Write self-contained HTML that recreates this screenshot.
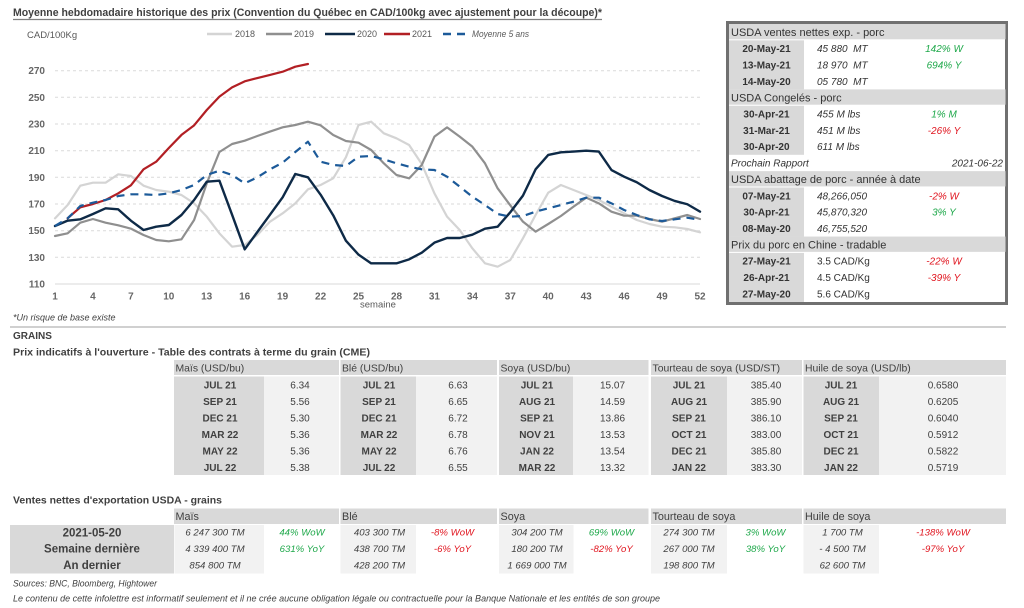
<!DOCTYPE html>
<html><head><meta charset="utf-8"><style>
html,body{margin:0;padding:0;background:#fff;}
svg{display:block;font-family:"Liberation Sans",sans-serif;}
</style></head><body>
<svg width="1024" height="608" viewBox="0 0 1024 608" xmlns="http://www.w3.org/2000/svg">
<rect width="1024" height="608" fill="#fff"/>
<!-- Title -->
<text x="13" y="16" font-size="11" font-weight="bold" fill="#404040" textLength="589" lengthAdjust="spacingAndGlyphs">Moyenne hebdomadaire historique des prix (Convention du Québec en CAD/100kg avec ajustement pour la découpe)*</text>
<line x1="13" y1="19.5" x2="602" y2="19.5" stroke="#808080" stroke-width="1.3"/>
<text x="27" y="38" font-size="9.5" fill="#595959">CAD/100Kg</text>
<!-- Legend -->
<g font-size="9" fill="#595959">
<line x1="207" y1="34" x2="232" y2="34" stroke="#d4d4d4" stroke-width="2.5"/><text x="235" y="37.2">2018</text>
<line x1="266" y1="34" x2="292" y2="34" stroke="#8f8f8f" stroke-width="2.5"/><text x="294" y="37.2">2019</text>
<line x1="325" y1="34" x2="355" y2="34" stroke="#0e2a47" stroke-width="2.5"/><text x="357" y="37.2">2020</text>
<line x1="384" y1="34" x2="410" y2="34" stroke="#b21f24" stroke-width="2.5"/><text x="412" y="37.2">2021</text>
<line x1="443" y1="34" x2="467" y2="34" stroke="#1c5a99" stroke-width="2.5" stroke-dasharray="8,6"/><text x="472" y="37.2" font-style="italic" textLength="57" lengthAdjust="spacingAndGlyphs">Moyenne 5 ans</text>
</g>
<!-- Gridlines -->
<g stroke="#dadada" stroke-width="1" stroke-dasharray="3,3">
<line x1="55" y1="70.7" x2="700" y2="70.7"/>
<line x1="55" y1="97.3" x2="700" y2="97.3"/>
<line x1="55" y1="124" x2="700" y2="124"/>
<line x1="55" y1="150.7" x2="700" y2="150.7"/>
<line x1="55" y1="177.3" x2="700" y2="177.3"/>
<line x1="55" y1="204" x2="700" y2="204"/>
<line x1="55" y1="230.7" x2="700" y2="230.7"/>
<line x1="55" y1="257.3" x2="700" y2="257.3"/>
</g>
<line x1="55" y1="284" x2="700" y2="284" stroke="#d9d9d9" stroke-width="1"/>
<!-- Y labels -->
<g font-size="10" font-weight="bold" fill="#666" text-anchor="end">
<text x="45" y="74">270</text><text x="45" y="100.8">250</text><text x="45" y="127.5">230</text><text x="45" y="154.2">210</text>
<text x="45" y="180.8">190</text><text x="45" y="207.5">170</text><text x="45" y="234.2">150</text><text x="45" y="260.8">130</text><text x="45" y="287.5">110</text>
</g>
<!-- X labels -->
<g font-size="10" font-weight="bold" fill="#666" text-anchor="middle">
<text x="55" y="299.5">1</text><text x="92.9" y="299.5">4</text><text x="130.9" y="299.5">7</text><text x="168.8" y="299.5">10</text>
<text x="206.7" y="299.5">13</text><text x="244.7" y="299.5">16</text><text x="282.6" y="299.5">19</text><text x="320.6" y="299.5">22</text>
<text x="358.5" y="299.5">25</text><text x="396.5" y="299.5">28</text><text x="434.4" y="299.5">31</text><text x="472.4" y="299.5">34</text>
<text x="510.3" y="299.5">37</text><text x="548.2" y="299.5">40</text><text x="586.2" y="299.5">43</text><text x="624.1" y="299.5">46</text>
<text x="662.1" y="299.5">49</text><text x="700" y="299.5">52</text>
</g>
<text x="360" y="307.5" font-size="9.5" fill="#595959">semaine</text>
<!-- Series -->
<g transform="matrix(12.647 0 0 -1.33333 42.353 430.667)" fill="none" stroke-linejoin="round" stroke-linecap="round">
<polyline vector-effect="non-scaling-stroke" stroke="#d4d4d4" stroke-width="2.2" points="1,159.25 2,169.25 3,183.75 4,186 5,186 6,192.25 7,191 8,183.75 9,180.5 10,179.25 11,176.75 12,170.5 13,160.5 14,148 15,138 16,139.25 17,146.75 18,156.75 19,163 20,170.5 21,181 22,184.25 23,189.25 24,205 25,229.25 26,231.75 27,223 28,219.25 29,214.25 30,200 31,178 32,160.5 33,150.5 34,136.75 35,125.5 36,123 37,128 38,144.25 39,161.75 40,178.5 41,184.25 42,180.5 43,176.75 44,173 45,168 46,163 47,158 48,155 49,153 50,152.5 51,151.25 52,148.75"/>
<polyline vector-effect="non-scaling-stroke" stroke="#8f8f8f" stroke-width="2.2" points="1,146 2,148 3,156 4,158.75 5,156 6,154 7,151.5 8,146.75 9,143 10,142 11,143.5 12,158 13,185.5 14,209 15,215 16,217.5 17,221 18,224.3 19,227.5 20,229.25 21,231.75 22,229 23,221.75 24,217.25 25,216 26,210.5 27,200.5 28,191.75 29,189.25 30,199.25 31,220.5 32,227.5 33,220.5 34,213 35,200.5 36,181.75 37,169 38,156.75 39,149.25 40,155 41,161 42,168 43,174.75 44,170.5 45,164.25 46,161.25 47,161.25 48,158.75 49,156.75 50,159.25 51,161.75 52,158.75"/>
<polyline vector-effect="non-scaling-stroke" stroke="#0e2a47" stroke-width="2.4" points="1,153.5 2,157.5 3,158.5 4,162.5 5,166.75 6,166 7,157.5 8,150.5 9,153 10,154.25 11,161.75 12,173 13,186.75 14,187.5 15,162 16,136 17,149 18,162 19,175 20,192.5 21,190 22,177 23,161.5 24,142.5 25,132 26,125.5 27,125.5 28,125.5 29,128.5 30,133.5 31,141 32,144.5 33,144.5 34,147 35,151.5 36,153 37,163.8 38,176.3 39,196 40,206.8 41,208.8 42,209.3 43,210 44,209.3 45,195.5 46,190.5 47,186.3 48,180.5 49,176 50,172.3 51,169.8 52,164.3"/>
<polyline vector-effect="non-scaling-stroke" stroke="#b21f24" stroke-width="2.2" points="2,159.3 3,167.5 4,170 5,173 6,178 7,184 8,196 9,201.7 10,212 11,221.8 12,229 13,240.5 14,250.5 15,257.5 16,262 17,264.5 18,266.8 19,269.2 20,273 21,275"/>
<polyline vector-effect="non-scaling-stroke" stroke="#1c5a99" stroke-width="2.2" stroke-dasharray="8,6" stroke-linecap="butt" points="1,153.5 2,159.25 3,168.5 4,171 5,173 6,176 7,177.25 8,177.25 9,176.75 10,178 11,180.5 12,184.25 13,191.75 14,195 15,191.75 16,185.5 17,190 18,196 19,201 20,209 21,216.75 22,201.75 23,199.25 24,198.5 25,205.5 26,206 27,203.5 28,200.5 29,198 30,196 31,195.5 32,190.5 33,183 34,175.5 35,169.25 36,162.5 37,160.5 38,161 39,164.25 40,166.75 41,169.25 42,171.75 43,174.75 44,174.75 45,170.5 46,165.5 47,161.75 48,158.5 49,157.25 50,158.5 51,159.75 52,158"/>
</g>
<text x="13" y="320.5" font-size="9" font-style="italic" fill="#404040">*Un risque de base existe</text>
<line x1="10" y1="327" x2="1006" y2="327" stroke="#d0d0d0" stroke-width="2"/>

<!-- Right panel -->
<rect x="727.5" y="22.5" width="279" height="281" fill="#fff" stroke="#707070" stroke-width="3"/>
<g fill="#d9d9d9">
<rect x="729" y="24" width="276.5" height="15.3"/>
<rect x="729" y="89.4" width="276.5" height="15.3"/>
<rect x="729" y="171.15" width="276.5" height="15.3"/>
<rect x="729" y="236.55" width="276.5" height="15.3"/>
<rect x="729" y="40.35" width="75" height="49.05"/>
<rect x="729" y="105.75" width="75" height="49.05"/>
<rect x="729" y="187.5" width="75" height="49.05"/>
<rect x="729" y="252.9" width="75" height="49.05"/>
</g>
<g font-size="11" fill="#333">
<text x="731" y="36">USDA ventes nettes exp. - porc</text>
<text x="731" y="101.4">USDA Congelés - porc</text>
<text x="731" y="183.1">USDA abattage de porc - année à date</text>
<text x="731" y="248.5">Prix du porc en Chine - tradable</text>
</g>
<g font-size="10" font-weight="bold" fill="#333" text-anchor="middle">
<text x="766.5" y="52.1">20-May-21</text><text x="766.5" y="68.5">13-May-21</text><text x="766.5" y="84.8">14-May-20</text>
<text x="766.5" y="117.5">30-Apr-21</text><text x="766.5" y="133.9">31-Mar-21</text><text x="766.5" y="150.2">30-Apr-20</text>
<text x="766.5" y="199.3">07-May-21</text><text x="766.5" y="215.6">30-Apr-21</text><text x="766.5" y="232">08-May-20</text>
<text x="766.5" y="264.7">27-May-21</text><text x="766.5" y="281">26-Apr-21</text><text x="766.5" y="297.4">27-May-20</text>
</g>
<g font-size="10" font-style="italic" fill="#333">
<text x="817" y="52.1" xml:space="preserve">45 880  MT</text><text x="817" y="68.5" xml:space="preserve">18 970  MT</text><text x="817" y="84.8" xml:space="preserve">05 780  MT</text>
<text x="817" y="117.5">455 M lbs</text><text x="817" y="133.9">451 M lbs</text><text x="817" y="150.2">611 M lbs</text>
<text x="731" y="166.6">Prochain Rapport</text><text x="1003" y="166.6" text-anchor="end">2021-06-22</text>
<text x="817" y="199.3">48,266,050</text><text x="817" y="215.6">45,870,320</text><text x="817" y="232">46,755,520</text>
</g>
<g font-size="10" fill="#333">
<text x="817" y="264.7">3.5 CAD/Kg</text><text x="817" y="281">4.5 CAD/Kg</text><text x="817" y="297.4">5.6 CAD/Kg</text>
</g>
<g font-size="10" font-style="italic" text-anchor="middle">
<text x="944" y="52.1" fill="#1ea84a">142% W</text><text x="944" y="68.5" fill="#1ea84a">694% Y</text>
<text x="944" y="117.5" fill="#1ea84a">1% M</text><text x="944" y="133.9" fill="#e0141e">-26% Y</text>
<text x="944" y="199.3" fill="#e0141e">-2% W</text><text x="944" y="215.6" fill="#1ea84a">3% Y</text>
<text x="944" y="264.7" fill="#e0141e">-22% W</text><text x="944" y="281" fill="#e0141e">-39% Y</text>
</g>

<!-- GRAINS -->
<text x="13" y="339" font-size="10" font-weight="bold" fill="#404040">GRAINS</text>
<text x="13" y="355.5" font-size="10.5" font-weight="bold" fill="#404040" textLength="357" lengthAdjust="spacingAndGlyphs">Prix indicatifs à l'ouverture - Table des contrats à terme du grain (CME)</text>
<g fill="#d9d9d9">
<rect x="174" y="360" width="165" height="15"/><rect x="340.5" y="360" width="156.5" height="15"/><rect x="499" y="360" width="149.5" height="15"/><rect x="651" y="360" width="151" height="15"/><rect x="803.5" y="360" width="202.5" height="15"/>
<rect x="174" y="376.5" width="90" height="98.5"/><rect x="340.5" y="376.5" width="75.5" height="98.5"/><rect x="499" y="376.5" width="74" height="98.5"/><rect x="651" y="376.5" width="76" height="98.5"/><rect x="803.5" y="376.5" width="75.5" height="98.5"/>
</g>
<g fill="#f2f2f2">
<rect x="264" y="376.5" width="75" height="98.5"/><rect x="416" y="376.5" width="81" height="98.5"/><rect x="573" y="376.5" width="75.5" height="98.5"/><rect x="727" y="376.5" width="75" height="98.5"/><rect x="879" y="376.5" width="127" height="98.5"/>
</g>
<g font-size="10.4" fill="#404040">
<text x="175.5" y="371.5">Maïs (USD/bu)</text><text x="342" y="371.5">Blé (USD/bu)</text><text x="500.5" y="371.5">Soya (USD/bu)</text><text x="652.5" y="371.5">Tourteau de soya (USD/ST)</text><text x="805" y="371.5">Huile de soya (USD/lb)</text>
</g>
<g font-size="10" font-weight="bold" fill="#404040" text-anchor="middle">
<text x="220" y="388.6">JUL 21</text><text x="220" y="405.1">SEP 21</text><text x="220" y="421.5">DEC 21</text><text x="220" y="438">MAR 22</text><text x="220" y="454.5">MAY 22</text><text x="220" y="470.9">JUL 22</text>
<text x="379" y="388.6">JUL 21</text><text x="379" y="405.1">SEP 21</text><text x="379" y="421.5">DEC 21</text><text x="379" y="438">MAR 22</text><text x="379" y="454.5">MAY 22</text><text x="379" y="470.9">JUL 22</text>
<text x="537" y="388.6">JUL 21</text><text x="537" y="405.1">AUG 21</text><text x="537" y="421.5">SEP 21</text><text x="537" y="438">NOV 21</text><text x="537" y="454.5">JAN 22</text><text x="537" y="470.9">MAR 22</text>
<text x="689" y="388.6">JUL 21</text><text x="689" y="405.1">AUG 21</text><text x="689" y="421.5">SEP 21</text><text x="689" y="438">OCT 21</text><text x="689" y="454.5">DEC 21</text><text x="689" y="470.9">JAN 22</text>
<text x="841" y="388.6">JUL 21</text><text x="841" y="405.1">AUG 21</text><text x="841" y="421.5">SEP 21</text><text x="841" y="438">OCT 21</text><text x="841" y="454.5">DEC 21</text><text x="841" y="470.9">JAN 22</text>
</g>
<g font-size="10" fill="#404040" text-anchor="middle">
<text x="300" y="388.6">6.34</text><text x="300" y="405.1">5.56</text><text x="300" y="421.5">5.30</text><text x="300" y="438">5.36</text><text x="300" y="454.5">5.36</text><text x="300" y="470.9">5.38</text>
<text x="458" y="388.6">6.63</text><text x="458" y="405.1">6.65</text><text x="458" y="421.5">6.72</text><text x="458" y="438">6.78</text><text x="458" y="454.5">6.76</text><text x="458" y="470.9">6.55</text>
<text x="612.5" y="388.6">15.07</text><text x="612.5" y="405.1">14.59</text><text x="612.5" y="421.5">13.86</text><text x="612.5" y="438">13.53</text><text x="612.5" y="454.5">13.54</text><text x="612.5" y="470.9">13.32</text>
<text x="766" y="388.6">385.40</text><text x="766" y="405.1">385.90</text><text x="766" y="421.5">386.10</text><text x="766" y="438">383.00</text><text x="766" y="454.5">385.80</text><text x="766" y="470.9">383.30</text>
<text x="943" y="388.6">0.6580</text><text x="943" y="405.1">0.6205</text><text x="943" y="421.5">0.6040</text><text x="943" y="438">0.5912</text><text x="943" y="454.5">0.5822</text><text x="943" y="470.9">0.5719</text>
</g>

<!-- Export sales -->
<text x="13" y="503.5" font-size="10.5" font-weight="bold" fill="#404040" textLength="209" lengthAdjust="spacingAndGlyphs">Ventes nettes d'exportation USDA - grains</text>
<g fill="#d9d9d9">
<rect x="174" y="508.5" width="165" height="15.5"/><rect x="340.5" y="508.5" width="156.5" height="15.5"/><rect x="499" y="508.5" width="149.5" height="15.5"/><rect x="651" y="508.5" width="151" height="15.5"/><rect x="803.5" y="508.5" width="202.5" height="15.5"/>
<rect x="10" y="525" width="164" height="48.5"/>
</g>
<g fill="#f2f2f2">
<rect x="174.5" y="525" width="89.5" height="48.5"/><rect x="340.5" y="525" width="75.5" height="48.5"/><rect x="499" y="525" width="74.5" height="48.5"/><rect x="651" y="525" width="76" height="48.5"/><rect x="803.5" y="525" width="75.5" height="48.5"/>
</g>
<g font-size="10.8" fill="#404040">
<text x="175.5" y="520">Maïs</text><text x="342" y="520">Blé</text><text x="500.5" y="520">Soya</text><text x="652.5" y="520">Tourteau de soya</text><text x="805" y="520">Huile de soya</text>
</g>
<g font-size="11.5" font-weight="bold" fill="#404040" text-anchor="middle">
<text x="92" y="536.3">2021-05-20</text><text x="92" y="552.5">Semaine dernière</text><text x="92" y="569">An dernier</text>
</g>
<g font-size="9.6" font-style="italic" fill="#404040" text-anchor="middle">
<text x="215" y="535.7">6 247 300 TM</text><text x="215" y="551.9">4 339 400 TM</text><text x="215" y="568.4">854 800 TM</text>
<text x="379.5" y="535.7">403 300 TM</text><text x="379.5" y="551.9">438 700 TM</text><text x="379.5" y="568.4">428 200 TM</text>
<text x="537" y="535.7">304 200 TM</text><text x="537" y="551.9">180 200 TM</text><text x="537" y="568.4">1 669 000 TM</text>
<text x="689" y="535.7">274 300 TM</text><text x="689" y="551.9">267 000 TM</text><text x="689" y="568.4">198 800 TM</text>
<text x="842.5" y="535.7">1 700 TM</text><text x="842.5" y="551.9">- 4 500 TM</text><text x="842.5" y="568.4">62 600 TM</text>
</g>
<g font-size="9.6" font-style="italic" text-anchor="middle">
<text x="302" y="535.7" fill="#1ea84a">44% WoW</text><text x="302" y="551.9" fill="#1ea84a">631% YoY</text>
<text x="452.5" y="535.7" fill="#e0141e">-8% WoW</text><text x="452.5" y="551.9" fill="#e0141e">-6% YoY</text>
<text x="611.5" y="535.7" fill="#1ea84a">69% WoW</text><text x="611.5" y="551.9" fill="#e0141e">-82% YoY</text>
<text x="765.5" y="535.7" fill="#1ea84a">3% WoW</text><text x="765.5" y="551.9" fill="#1ea84a">38% YoY</text>
<text x="943" y="535.7" fill="#e0141e">-138% WoW</text><text x="943" y="551.9" fill="#e0141e">-97% YoY</text>
</g>
<text x="13" y="586.5" font-size="9" font-style="italic" fill="#404040" textLength="144" lengthAdjust="spacingAndGlyphs">Sources: BNC, Bloomberg, Hightower</text>
<text x="13" y="601.5" font-size="9" font-style="italic" fill="#404040" textLength="647" lengthAdjust="spacingAndGlyphs">Le contenu de cette infolettre est informatif seulement et il ne crée aucune obligation légale ou contractuelle pour la Banque Nationale et les entités de son groupe</text>
</svg>
</body></html>
